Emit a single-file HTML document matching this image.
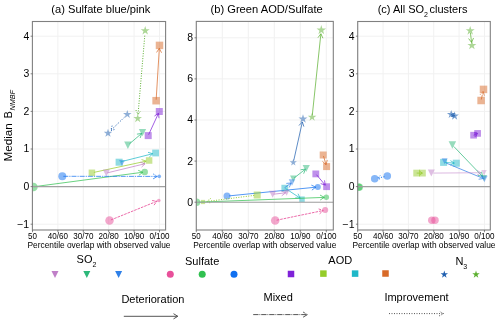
<!DOCTYPE html><html><head><meta charset="utf-8"><style>html,body{margin:0;padding:0;background:#fff;width:500px;height:324px;overflow:hidden}</style></head><body><svg width="500" height="324" viewBox="0 0 500 324" style="display:block;will-change:transform">
<rect width="500" height="324" fill="#fff"/>
<g font-family='"Liberation Sans", sans-serif' fill="#000">
<line x1="32.50" y1="21.5" x2="32.50" y2="230" stroke="#f1f1f1" stroke-width="1"/>
<line x1="57.90" y1="21.5" x2="57.90" y2="230" stroke="#f1f1f1" stroke-width="1"/>
<line x1="83.30" y1="21.5" x2="83.30" y2="230" stroke="#f1f1f1" stroke-width="1"/>
<line x1="108.70" y1="21.5" x2="108.70" y2="230" stroke="#f1f1f1" stroke-width="1"/>
<line x1="134.10" y1="21.5" x2="134.10" y2="230" stroke="#f1f1f1" stroke-width="1"/>
<line x1="159.50" y1="21.5" x2="159.50" y2="230" stroke="#f1f1f1" stroke-width="1"/>
<line x1="32.4" y1="224.20" x2="165.6" y2="224.20" stroke="#f1f1f1" stroke-width="1"/>
<line x1="32.4" y1="186.60" x2="165.6" y2="186.60" stroke="#f1f1f1" stroke-width="1"/>
<line x1="32.4" y1="149.00" x2="165.6" y2="149.00" stroke="#f1f1f1" stroke-width="1"/>
<line x1="32.4" y1="111.40" x2="165.6" y2="111.40" stroke="#f1f1f1" stroke-width="1"/>
<line x1="32.4" y1="73.80" x2="165.6" y2="73.80" stroke="#f1f1f1" stroke-width="1"/>
<line x1="32.4" y1="36.20" x2="165.6" y2="36.20" stroke="#f1f1f1" stroke-width="1"/>
<line x1="196.30" y1="21.4" x2="196.30" y2="230" stroke="#f1f1f1" stroke-width="1"/>
<line x1="222.30" y1="21.4" x2="222.30" y2="230" stroke="#f1f1f1" stroke-width="1"/>
<line x1="248.30" y1="21.4" x2="248.30" y2="230" stroke="#f1f1f1" stroke-width="1"/>
<line x1="274.30" y1="21.4" x2="274.30" y2="230" stroke="#f1f1f1" stroke-width="1"/>
<line x1="300.30" y1="21.4" x2="300.30" y2="230" stroke="#f1f1f1" stroke-width="1"/>
<line x1="326.30" y1="21.4" x2="326.30" y2="230" stroke="#f1f1f1" stroke-width="1"/>
<line x1="196.3" y1="202.20" x2="333.3" y2="202.20" stroke="#f1f1f1" stroke-width="1"/>
<line x1="196.3" y1="161.10" x2="333.3" y2="161.10" stroke="#f1f1f1" stroke-width="1"/>
<line x1="196.3" y1="120.00" x2="333.3" y2="120.00" stroke="#f1f1f1" stroke-width="1"/>
<line x1="196.3" y1="78.90" x2="333.3" y2="78.90" stroke="#f1f1f1" stroke-width="1"/>
<line x1="196.3" y1="37.80" x2="333.3" y2="37.80" stroke="#f1f1f1" stroke-width="1"/>
<line x1="357.70" y1="21.5" x2="357.70" y2="230" stroke="#f1f1f1" stroke-width="1"/>
<line x1="383.05" y1="21.5" x2="383.05" y2="230" stroke="#f1f1f1" stroke-width="1"/>
<line x1="408.40" y1="21.5" x2="408.40" y2="230" stroke="#f1f1f1" stroke-width="1"/>
<line x1="433.75" y1="21.5" x2="433.75" y2="230" stroke="#f1f1f1" stroke-width="1"/>
<line x1="459.10" y1="21.5" x2="459.10" y2="230" stroke="#f1f1f1" stroke-width="1"/>
<line x1="484.45" y1="21.5" x2="484.45" y2="230" stroke="#f1f1f1" stroke-width="1"/>
<line x1="357.7" y1="224.20" x2="490.3" y2="224.20" stroke="#f1f1f1" stroke-width="1"/>
<line x1="357.7" y1="186.60" x2="490.3" y2="186.60" stroke="#f1f1f1" stroke-width="1"/>
<line x1="357.7" y1="149.00" x2="490.3" y2="149.00" stroke="#f1f1f1" stroke-width="1"/>
<line x1="357.7" y1="111.40" x2="490.3" y2="111.40" stroke="#f1f1f1" stroke-width="1"/>
<line x1="357.7" y1="73.80" x2="490.3" y2="73.80" stroke="#f1f1f1" stroke-width="1"/>
<line x1="357.7" y1="36.20" x2="490.3" y2="36.20" stroke="#f1f1f1" stroke-width="1"/>
<defs><clipPath id="ca"><rect x="32.4" y="21.5" width="133.2" height="208.5"/></clipPath><clipPath id="cb"><rect x="196.3" y="21.4" width="137" height="208.6"/></clipPath><clipPath id="cc"><rect x="357.7" y="21.5" width="132.6" height="208.5"/></clipPath></defs>
<g clip-path="url(#ca)">
<path d="M145.20,25.95L144.13,29.23L140.68,29.23L143.47,31.26L142.41,34.54L145.20,32.51L147.99,34.54L146.93,31.26L149.72,29.23L146.27,29.23Z" fill="#5cb030" fill-opacity="0.5"/>
<path d="M137.70,114.00L136.69,117.11L133.42,117.11L136.07,119.03L135.05,122.14L137.70,120.22L140.35,122.14L139.33,119.03L141.98,117.11L138.71,117.11Z" fill="#5cb030" fill-opacity="0.5"/>
<path d="M144.77,35.68L138.04,114.51M135.91,110.12L138.04,114.51L140.89,110.54" fill="none" stroke="#5cb030" stroke-width="1.0" stroke-opacity="1.0" stroke-dasharray="1,1.5"/>
<rect x="155.75" y="41.65" width="7.50" height="7.50" fill="#d86a28" fill-opacity="0.5"/>
<rect x="152.35" y="96.95" width="7.50" height="7.50" fill="#d86a28" fill-opacity="0.5"/>
<path d="M156.16,99.70L159.32,48.39M161.55,52.74L159.32,48.39L156.56,52.43" fill="none" stroke="#d86a28" stroke-width="1.0" stroke-opacity="0.72" />
<path d="M127.30,109.90L126.29,113.01L123.02,113.01L125.67,114.93L124.65,118.04L127.30,116.12L129.95,118.04L128.93,114.93L131.58,113.01L128.31,113.01Z" fill="#2060b0" fill-opacity="0.5"/>
<path d="M108.00,128.70L106.99,131.81L103.72,131.81L106.37,133.73L105.35,136.84L108.00,134.92L110.65,136.84L109.63,133.73L112.28,131.81L109.01,131.81Z" fill="#2060b0" fill-opacity="0.5"/>
<path d="M124.43,117.19L110.87,130.41M112.13,125.69L110.87,130.41L115.62,129.27" fill="none" stroke="#2060b0" stroke-width="1.0" stroke-opacity="1.0" stroke-dasharray="1,1.5"/>
<rect x="155.80" y="108.00" width="7.00" height="7.00" fill="#7f22d8" fill-opacity="0.5"/>
<rect x="144.70" y="132.10" width="7.00" height="7.00" fill="#7f22d8" fill-opacity="0.5"/>
<path d="M148.62,134.69L158.46,113.32M158.98,118.18L158.46,113.32L154.44,116.09" fill="none" stroke="#7f22d8" stroke-width="1.0" stroke-opacity="0.72" />
<path d="M124.20,141.50L131.60,141.50L127.90,148.90Z" fill="#2db87a" fill-opacity="0.5"/>
<path d="M138.90,129.10L146.10,129.10L142.50,136.30Z" fill="#2db87a" fill-opacity="0.5"/>
<path d="M129.42,143.90L141.74,133.35M140.18,137.98L141.74,133.35L136.92,134.18" fill="none" stroke="#2db87a" stroke-width="1.0" stroke-opacity="0.72" />
<rect x="152.20" y="149.60" width="6.80" height="6.80" fill="#1fb8c8" fill-opacity="0.5"/>
<rect x="115.60" y="158.70" width="7.00" height="7.00" fill="#1fb8c8" fill-opacity="0.5"/>
<path d="M119.00,160.00L125.00,160.00L122.00,166.00Z" fill="#2f80e8" fill-opacity="0.5"/>
<path d="M121.04,161.71L152.69,153.73M149.23,157.18L152.69,153.73L148.01,152.34" fill="none" stroke="#1fb8c8" stroke-width="1.0" stroke-opacity="0.72" />
<rect x="145.85" y="157.25" width="6.50" height="6.50" fill="#95cc2a" fill-opacity="0.5"/>
<rect x="88.65" y="169.55" width="6.50" height="6.50" fill="#95cc2a" fill-opacity="0.5"/>
<path d="M93.86,172.38L146.17,161.13M142.59,164.46L146.17,161.13L141.54,159.57" fill="none" stroke="#95cc2a" stroke-width="1.0" stroke-opacity="0.72" />
<path d="M102.80,169.60L109.80,169.60L106.30,176.60Z" fill="#c080c8" fill-opacity="0.5"/>
<path d="M107.27,172.86L145.08,163.71M141.59,167.12L145.08,163.71L140.41,162.27" fill="none" stroke="#c080c8" stroke-width="1.0" stroke-opacity="0.72" />
<circle cx="33.40" cy="187.00" r="4.30" fill="#30c050" fill-opacity="0.5"/>
<circle cx="144.70" cy="172.00" r="3.25" fill="#30c050" fill-opacity="0.5"/>
<path d="M34.20,186.70L142.72,172.26M138.88,175.30L142.72,172.26L138.22,170.34" fill="none" stroke="#30c050" stroke-width="1.0" stroke-opacity="0.72" />
<circle cx="62.30" cy="176.30" r="4.00" fill="#1070f0" fill-opacity="0.5"/>
<circle cx="159.30" cy="176.40" r="1.80" fill="#1070f0" fill-opacity="0.5"/>
<path d="M63.30,176.30L157.30,176.40M153.10,178.89L157.30,176.40L153.10,173.89" fill="none" stroke="#1070f0" stroke-width="1.0" stroke-opacity="0.72" stroke-dasharray="5,1,1.2,1"/>
<circle cx="109.50" cy="220.50" r="4.25" fill="#e8509a" fill-opacity="0.5"/>
<circle cx="158.80" cy="200.50" r="1.80" fill="#e8509a" fill-opacity="0.5"/>
<path d="M110.89,219.94L156.95,201.25M153.99,205.15L156.95,201.25L152.11,200.51" fill="none" stroke="#e8509a" stroke-width="1.0" stroke-opacity="0.85" stroke-dasharray="2.6,1"/>
</g>
<g clip-path="url(#cb)">
<path d="M321.30,25.10L320.18,28.55L316.54,28.55L319.48,30.69L318.36,34.15L321.30,32.01L324.24,34.15L323.12,30.69L326.06,28.55L322.42,28.55Z" fill="#5cb030" fill-opacity="0.5"/>
<path d="M312.10,112.60L311.09,115.71L307.82,115.71L310.47,117.63L309.45,120.74L312.10,118.82L314.75,120.74L313.73,117.63L316.38,115.71L313.11,115.71Z" fill="#5cb030" fill-opacity="0.5"/>
<path d="M312.31,115.11L320.89,33.78M322.93,38.22L320.89,33.78L317.96,37.70" fill="none" stroke="#5cb030" stroke-width="1.0" stroke-opacity="0.72" />
<path d="M303.00,114.25L301.93,117.53L298.48,117.53L301.27,119.56L300.21,122.84L303.00,120.81L305.79,122.84L304.73,119.56L307.52,117.53L304.07,117.53Z" fill="#2060b0" fill-opacity="0.5"/>
<path d="M293.30,158.75L292.46,161.34L289.73,161.34L291.94,162.94L291.10,165.53L293.30,163.93L295.50,165.53L294.66,162.94L296.87,161.34L294.14,161.34Z" fill="#2060b0" fill-opacity="0.5"/>
<path d="M293.74,160.55L302.35,121.93M303.87,126.57L302.35,121.93L298.99,125.48" fill="none" stroke="#2060b0" stroke-width="1.0" stroke-opacity="0.72" />
<rect x="319.70" y="151.50" width="7.00" height="7.00" fill="#d86a28" fill-opacity="0.5"/>
<rect x="323.10" y="163.10" width="7.00" height="7.00" fill="#d86a28" fill-opacity="0.5"/>
<path d="M323.48,155.96L326.04,164.68M322.46,161.35L326.04,164.68L327.26,159.95" fill="none" stroke="#d86a28" stroke-width="1.0" stroke-opacity="0.72" />
<path d="M302.60,164.90L309.80,164.90L306.20,172.10Z" fill="#2db87a" fill-opacity="0.5"/>
<path d="M290.05,175.45L296.55,175.45L293.30,181.95Z" fill="#2db87a" fill-opacity="0.5"/>
<path d="M294.08,178.08L305.42,169.12M303.67,173.69L305.42,169.12L300.57,169.76" fill="none" stroke="#2db87a" stroke-width="1.0" stroke-opacity="0.72" />
<rect x="312.40" y="170.50" width="6.80" height="6.80" fill="#7f22d8" fill-opacity="0.5"/>
<rect x="323.20" y="183.30" width="6.80" height="6.80" fill="#7f22d8" fill-opacity="0.5"/>
<path d="M316.44,174.66L325.31,185.17M320.69,183.57L325.31,185.17L324.51,180.35" fill="none" stroke="#7f22d8" stroke-width="1.0" stroke-opacity="0.72" />
<circle cx="227.00" cy="196.10" r="3.50" fill="#1070f0" fill-opacity="0.5"/>
<circle cx="317.80" cy="187.00" r="3.00" fill="#1070f0" fill-opacity="0.5"/>
<path d="M228.99,195.90L315.81,187.20M311.88,190.11L315.81,187.20L311.38,185.13" fill="none" stroke="#1070f0" stroke-width="1.0" stroke-opacity="0.72" />
<rect x="281.40" y="184.80" width="6.80" height="6.80" fill="#1fb8c8" fill-opacity="0.5"/>
<rect x="299.25" y="196.45" width="5.50" height="5.50" fill="#1fb8c8" fill-opacity="0.5"/>
<path d="M285.34,188.35L300.13,198.10M295.25,197.88L300.13,198.10L298.00,193.70" fill="none" stroke="#1fb8c8" stroke-width="1.0" stroke-opacity="0.72" />
<path d="M288.75,179.15L295.25,179.15L292.00,185.65Z" fill="#2f80e8" fill-opacity="0.5"/>
<path d="M284.50,187.80L291.19,182.98M289.24,187.47L291.19,182.98L286.32,183.41" fill="none" stroke="#2f80e8" stroke-width="1.0" stroke-opacity="0.72" />
<path d="M269.10,190.80L276.10,190.80L272.60,197.80Z" fill="#c080c8" fill-opacity="0.5"/>
<path d="M283.60,189.70L289.60,189.70L286.60,195.70Z" fill="#c080c8" fill-opacity="0.5"/>
<path d="M273.59,194.19L285.61,192.81M281.72,195.77L285.61,192.81L281.15,190.81" fill="none" stroke="#c080c8" stroke-width="1.0" stroke-opacity="0.72" />
<rect x="253.70" y="191.50" width="7.00" height="7.00" fill="#95cc2a" fill-opacity="0.5"/>
<rect x="200.90" y="199.90" width="4.20" height="4.20" fill="#95cc2a" fill-opacity="0.5"/>
<path d="M254.22,195.38L206.77,201.49M210.61,198.47L206.77,201.49L211.25,203.43" fill="none" stroke="#95cc2a" stroke-width="1.0" stroke-opacity="1.0" stroke-dasharray="1,1.5"/>
<circle cx="196.60" cy="202.30" r="3.70" fill="#30c050" fill-opacity="0.5"/>
<circle cx="326.30" cy="197.30" r="2.75" fill="#30c050" fill-opacity="0.5"/>
<path d="M198.80,202.16L324.30,197.38M320.20,200.03L324.30,197.38L320.01,195.04" fill="none" stroke="#30c050" stroke-width="1.0" stroke-opacity="0.72" />
<circle cx="275.20" cy="220.50" r="4.25" fill="#e8509a" fill-opacity="0.5"/>
<circle cx="325.20" cy="210.10" r="3.00" fill="#e8509a" fill-opacity="0.5"/>
<path d="M276.67,220.19L323.24,210.51M319.64,213.81L323.24,210.51L318.62,208.91" fill="none" stroke="#e8509a" stroke-width="1.0" stroke-opacity="0.85" stroke-dasharray="2.6,1"/>
</g>
<g clip-path="url(#cc)">
<path d="M470.20,26.05L469.13,29.33L465.68,29.33L468.47,31.36L467.41,34.64L470.20,32.61L472.99,34.64L471.93,31.36L474.72,29.33L471.27,29.33Z" fill="#5cb030" fill-opacity="0.5"/>
<path d="M471.90,40.65L470.83,43.93L467.38,43.93L470.17,45.96L469.11,49.24L471.90,47.21L474.69,49.24L473.63,45.96L476.42,43.93L472.97,43.93Z" fill="#5cb030" fill-opacity="0.5"/>
<path d="M470.43,32.79L471.55,42.42M468.58,38.54L471.55,42.42L473.55,37.96" fill="none" stroke="#5cb030" stroke-width="1.0" stroke-opacity="0.72" />
<rect x="477.35" y="96.75" width="7.50" height="7.50" fill="#d86a28" fill-opacity="0.5"/>
<rect x="479.75" y="85.65" width="7.50" height="7.50" fill="#d86a28" fill-opacity="0.5"/>
<path d="M481.31,99.52L483.08,91.35M484.38,95.73L483.08,91.35L480.08,94.80" fill="none" stroke="#d86a28" stroke-width="1.0" stroke-opacity="0.72" stroke-dasharray="5,1,1.2,1"/>
<path d="M451.20,109.90L450.19,113.01L446.92,113.01L449.57,114.93L448.55,118.04L451.20,116.12L453.85,118.04L452.83,114.93L455.48,113.01L452.21,113.01Z" fill="#2060b0" fill-opacity="0.6"/>
<path d="M454.60,111.50L453.59,114.61L450.32,114.61L452.97,116.53L451.95,119.64L454.60,117.72L457.25,119.64L456.23,116.53L458.88,114.61L455.61,114.61Z" fill="#2060b0" fill-opacity="0.6"/>
<path d="M451.20,114.40L454.60,116.00M451.03,116.53L454.60,116.00L452.74,112.91" fill="none" stroke="#2060b0" stroke-width="1.0" stroke-opacity="0.72" />
<rect x="470.25" y="131.85" width="6.70" height="6.70" fill="#7f22d8" fill-opacity="0.5"/>
<rect x="474.25" y="130.05" width="6.70" height="6.70" fill="#7f22d8" fill-opacity="0.5"/>
<path d="M473.60,135.20L477.60,133.40M475.68,136.45L477.60,133.40L474.04,132.81" fill="none" stroke="#7f22d8" stroke-width="1.0" stroke-opacity="0.72" />
<path d="M448.65,141.25L456.15,141.25L452.40,148.75Z" fill="#2db87a" fill-opacity="0.5"/>
<path d="M481.00,175.00L487.00,175.00L484.00,181.00Z" fill="#2db87a" fill-opacity="0.5"/>
<path d="M453.78,146.44L482.62,176.56M477.91,175.25L482.62,176.56L481.52,171.79" fill="none" stroke="#2db87a" stroke-width="1.0" stroke-opacity="0.72" />
<rect x="440.10" y="158.90" width="7.00" height="7.00" fill="#1fb8c8" fill-opacity="0.5"/>
<rect x="452.80" y="159.70" width="7.00" height="7.00" fill="#1fb8c8" fill-opacity="0.5"/>
<path d="M441.60,158.30L447.60,158.30L444.60,164.30Z" fill="#2f80e8" fill-opacity="0.5"/>
<path d="M481.15,175.65L487.65,175.65L484.40,182.15Z" fill="#2f80e8" fill-opacity="0.5"/>
<path d="M444.60,162.46L454.30,163.07M450.17,165.02L454.30,163.07L450.45,160.63" fill="none" stroke="#1fb8c8" stroke-width="1.0" stroke-opacity="0.72" />
<path d="M446.00,163.00L483.48,178.52M478.64,179.22L483.48,178.52L480.55,174.60" fill="none" stroke="#2f80e8" stroke-width="1.0" stroke-opacity="0.72" />
<path d="M427.80,169.60L434.80,169.60L431.30,176.60Z" fill="#c080c8" fill-opacity="0.5"/>
<path d="M481.25,169.95L486.75,169.95L484.00,175.45Z" fill="#c080c8" fill-opacity="0.4"/>
<path d="M433.30,173.08L481.00,172.72M476.82,175.25L481.00,172.72L476.78,170.25" fill="none" stroke="#c080c8" stroke-width="1.0" stroke-opacity="0.55" />
<rect x="413.30" y="169.70" width="6.80" height="6.80" fill="#95cc2a" fill-opacity="0.5"/>
<rect x="419.00" y="169.70" width="6.80" height="6.80" fill="#95cc2a" fill-opacity="0.5"/>
<path d="M416.70,173.10L422.40,173.10M419.40,175.10L422.40,173.10L419.40,171.10" fill="none" stroke="#95cc2a" stroke-width="1.0" stroke-opacity="0.72" />
<circle cx="374.70" cy="178.80" r="3.75" fill="#1070f0" fill-opacity="0.5"/>
<circle cx="387.30" cy="176.00" r="3.75" fill="#1070f0" fill-opacity="0.5"/>
<path d="M384.37,176.65L377.63,178.15M380.12,175.55L377.63,178.15L380.99,179.45" fill="none" stroke="#1070f0" stroke-width="1.0" stroke-opacity="1.0" stroke-dasharray="1,1.5"/>
<circle cx="358.60" cy="187.20" r="3.60" fill="#30c050" fill-opacity="0.5"/>
<circle cx="359.40" cy="187.20" r="3.60" fill="#30c050" fill-opacity="0.5"/>
<circle cx="431.80" cy="220.30" r="3.75" fill="#e8509a" fill-opacity="0.5"/>
<circle cx="435.00" cy="220.30" r="3.75" fill="#e8509a" fill-opacity="0.5"/>
</g>
<line x1="32.4" y1="186.60" x2="165.6" y2="186.60" stroke="#a0a0a0" stroke-width="1.1"/>
<rect x="32.4" y="21.5" width="133.2" height="208.5" fill="none" stroke="#808080" stroke-width="1.1"/>
<line x1="32.50" y1="230" x2="32.50" y2="232.2" stroke="#555" stroke-width="0.7"/>
<line x1="57.90" y1="230" x2="57.90" y2="232.2" stroke="#555" stroke-width="0.7"/>
<line x1="83.30" y1="230" x2="83.30" y2="232.2" stroke="#555" stroke-width="0.7"/>
<line x1="108.70" y1="230" x2="108.70" y2="232.2" stroke="#555" stroke-width="0.7"/>
<line x1="134.10" y1="230" x2="134.10" y2="232.2" stroke="#555" stroke-width="0.7"/>
<line x1="159.50" y1="230" x2="159.50" y2="232.2" stroke="#555" stroke-width="0.7"/>
<line x1="30.599999999999998" y1="224.20" x2="32.4" y2="224.20" stroke="#555" stroke-width="0.7"/>
<line x1="30.599999999999998" y1="186.60" x2="32.4" y2="186.60" stroke="#555" stroke-width="0.7"/>
<line x1="30.599999999999998" y1="149.00" x2="32.4" y2="149.00" stroke="#555" stroke-width="0.7"/>
<line x1="30.599999999999998" y1="111.40" x2="32.4" y2="111.40" stroke="#555" stroke-width="0.7"/>
<line x1="30.599999999999998" y1="73.80" x2="32.4" y2="73.80" stroke="#555" stroke-width="0.7"/>
<line x1="30.599999999999998" y1="36.20" x2="32.4" y2="36.20" stroke="#555" stroke-width="0.7"/>
<text x="32.50" y="239.10" font-size="8.6" text-anchor="middle" textLength="8.9" lengthAdjust="spacingAndGlyphs" >50</text>
<text x="57.90" y="239.10" font-size="8.6" text-anchor="middle" textLength="20.2" lengthAdjust="spacingAndGlyphs" >40/60</text>
<text x="83.30" y="239.10" font-size="8.6" text-anchor="middle" textLength="20.2" lengthAdjust="spacingAndGlyphs" >30/70</text>
<text x="108.70" y="239.10" font-size="8.6" text-anchor="middle" textLength="20.2" lengthAdjust="spacingAndGlyphs" >20/80</text>
<text x="134.10" y="239.10" font-size="8.6" text-anchor="middle" textLength="20.2" lengthAdjust="spacingAndGlyphs" >10/90</text>
<text x="159.50" y="239.10" font-size="8.6" text-anchor="middle" textLength="20.2" lengthAdjust="spacingAndGlyphs" >0/100</text>
<text x="29.20" y="227.60" font-size="10" text-anchor="end" textLength="12.0" lengthAdjust="spacingAndGlyphs" >−1</text>
<text x="29.20" y="190.00" font-size="10" text-anchor="end" textLength="5.8" lengthAdjust="spacingAndGlyphs" >0</text>
<text x="29.20" y="152.40" font-size="10" text-anchor="end" textLength="5.8" lengthAdjust="spacingAndGlyphs" >1</text>
<text x="29.20" y="114.80" font-size="10" text-anchor="end" textLength="5.8" lengthAdjust="spacingAndGlyphs" >2</text>
<text x="29.20" y="77.20" font-size="10" text-anchor="end" textLength="5.8" lengthAdjust="spacingAndGlyphs" >3</text>
<text x="29.20" y="39.60" font-size="10" text-anchor="end" textLength="5.8" lengthAdjust="spacingAndGlyphs" >4</text>
<text x="99.00" y="247.80" font-size="8.6" text-anchor="middle" textLength="143" lengthAdjust="spacingAndGlyphs" >Percentile overlap with observed value</text>
<line x1="196.3" y1="202.20" x2="333.3" y2="202.20" stroke="#a0a0a0" stroke-width="1.1"/>
<rect x="196.3" y="21.4" width="137.0" height="208.6" fill="none" stroke="#808080" stroke-width="1.1"/>
<line x1="196.30" y1="230" x2="196.30" y2="232.2" stroke="#555" stroke-width="0.7"/>
<line x1="222.30" y1="230" x2="222.30" y2="232.2" stroke="#555" stroke-width="0.7"/>
<line x1="248.30" y1="230" x2="248.30" y2="232.2" stroke="#555" stroke-width="0.7"/>
<line x1="274.30" y1="230" x2="274.30" y2="232.2" stroke="#555" stroke-width="0.7"/>
<line x1="300.30" y1="230" x2="300.30" y2="232.2" stroke="#555" stroke-width="0.7"/>
<line x1="326.30" y1="230" x2="326.30" y2="232.2" stroke="#555" stroke-width="0.7"/>
<line x1="194.5" y1="202.20" x2="196.3" y2="202.20" stroke="#555" stroke-width="0.7"/>
<line x1="194.5" y1="161.10" x2="196.3" y2="161.10" stroke="#555" stroke-width="0.7"/>
<line x1="194.5" y1="120.00" x2="196.3" y2="120.00" stroke="#555" stroke-width="0.7"/>
<line x1="194.5" y1="78.90" x2="196.3" y2="78.90" stroke="#555" stroke-width="0.7"/>
<line x1="194.5" y1="37.80" x2="196.3" y2="37.80" stroke="#555" stroke-width="0.7"/>
<text x="196.30" y="239.10" font-size="8.6" text-anchor="middle" textLength="8.9" lengthAdjust="spacingAndGlyphs" >50</text>
<text x="222.30" y="239.10" font-size="8.6" text-anchor="middle" textLength="20.2" lengthAdjust="spacingAndGlyphs" >40/60</text>
<text x="248.30" y="239.10" font-size="8.6" text-anchor="middle" textLength="20.2" lengthAdjust="spacingAndGlyphs" >30/70</text>
<text x="274.30" y="239.10" font-size="8.6" text-anchor="middle" textLength="20.2" lengthAdjust="spacingAndGlyphs" >20/80</text>
<text x="300.30" y="239.10" font-size="8.6" text-anchor="middle" textLength="20.2" lengthAdjust="spacingAndGlyphs" >10/90</text>
<text x="326.30" y="239.10" font-size="8.6" text-anchor="middle" textLength="20.2" lengthAdjust="spacingAndGlyphs" >0/100</text>
<text x="193.10" y="205.60" font-size="10" text-anchor="end" textLength="5.8" lengthAdjust="spacingAndGlyphs" >0</text>
<text x="193.10" y="164.50" font-size="10" text-anchor="end" textLength="5.8" lengthAdjust="spacingAndGlyphs" >2</text>
<text x="193.10" y="123.40" font-size="10" text-anchor="end" textLength="5.8" lengthAdjust="spacingAndGlyphs" >4</text>
<text x="193.10" y="82.30" font-size="10" text-anchor="end" textLength="5.8" lengthAdjust="spacingAndGlyphs" >6</text>
<text x="193.10" y="41.20" font-size="10" text-anchor="end" textLength="5.8" lengthAdjust="spacingAndGlyphs" >8</text>
<text x="264.80" y="247.80" font-size="8.6" text-anchor="middle" textLength="143" lengthAdjust="spacingAndGlyphs" >Percentile overlap with observed value</text>
<line x1="357.7" y1="186.60" x2="490.3" y2="186.60" stroke="#a0a0a0" stroke-width="1.1"/>
<rect x="357.7" y="21.5" width="132.60000000000002" height="208.5" fill="none" stroke="#808080" stroke-width="1.1"/>
<line x1="357.70" y1="230" x2="357.70" y2="232.2" stroke="#555" stroke-width="0.7"/>
<line x1="383.05" y1="230" x2="383.05" y2="232.2" stroke="#555" stroke-width="0.7"/>
<line x1="408.40" y1="230" x2="408.40" y2="232.2" stroke="#555" stroke-width="0.7"/>
<line x1="433.75" y1="230" x2="433.75" y2="232.2" stroke="#555" stroke-width="0.7"/>
<line x1="459.10" y1="230" x2="459.10" y2="232.2" stroke="#555" stroke-width="0.7"/>
<line x1="484.45" y1="230" x2="484.45" y2="232.2" stroke="#555" stroke-width="0.7"/>
<line x1="355.9" y1="224.20" x2="357.7" y2="224.20" stroke="#555" stroke-width="0.7"/>
<line x1="355.9" y1="186.60" x2="357.7" y2="186.60" stroke="#555" stroke-width="0.7"/>
<line x1="355.9" y1="149.00" x2="357.7" y2="149.00" stroke="#555" stroke-width="0.7"/>
<line x1="355.9" y1="111.40" x2="357.7" y2="111.40" stroke="#555" stroke-width="0.7"/>
<line x1="355.9" y1="73.80" x2="357.7" y2="73.80" stroke="#555" stroke-width="0.7"/>
<line x1="355.9" y1="36.20" x2="357.7" y2="36.20" stroke="#555" stroke-width="0.7"/>
<text x="357.70" y="239.10" font-size="8.6" text-anchor="middle" textLength="8.9" lengthAdjust="spacingAndGlyphs" >50</text>
<text x="383.05" y="239.10" font-size="8.6" text-anchor="middle" textLength="20.2" lengthAdjust="spacingAndGlyphs" >40/60</text>
<text x="408.40" y="239.10" font-size="8.6" text-anchor="middle" textLength="20.2" lengthAdjust="spacingAndGlyphs" >30/70</text>
<text x="433.75" y="239.10" font-size="8.6" text-anchor="middle" textLength="20.2" lengthAdjust="spacingAndGlyphs" >20/80</text>
<text x="459.10" y="239.10" font-size="8.6" text-anchor="middle" textLength="20.2" lengthAdjust="spacingAndGlyphs" >10/90</text>
<text x="484.45" y="239.10" font-size="8.6" text-anchor="middle" textLength="20.2" lengthAdjust="spacingAndGlyphs" >0/100</text>
<text x="354.50" y="227.60" font-size="10" text-anchor="end" textLength="12.0" lengthAdjust="spacingAndGlyphs" >−1</text>
<text x="354.50" y="190.00" font-size="10" text-anchor="end" textLength="5.8" lengthAdjust="spacingAndGlyphs" >0</text>
<text x="354.50" y="152.40" font-size="10" text-anchor="end" textLength="5.8" lengthAdjust="spacingAndGlyphs" >1</text>
<text x="354.50" y="114.80" font-size="10" text-anchor="end" textLength="5.8" lengthAdjust="spacingAndGlyphs" >2</text>
<text x="354.50" y="77.20" font-size="10" text-anchor="end" textLength="5.8" lengthAdjust="spacingAndGlyphs" >3</text>
<text x="354.50" y="39.60" font-size="10" text-anchor="end" textLength="5.8" lengthAdjust="spacingAndGlyphs" >4</text>
<text x="424.00" y="247.80" font-size="8.6" text-anchor="middle" textLength="143" lengthAdjust="spacingAndGlyphs" >Percentile overlap with observed value</text>
<text x="51.30" y="13.00" font-size="11.1" text-anchor="start" textLength="99" lengthAdjust="spacingAndGlyphs" >(a) Sulfate blue/pink</text>
<text x="210.50" y="13.00" font-size="11.1" text-anchor="start" textLength="112.2" lengthAdjust="spacingAndGlyphs" >(b) Green AOD/Sulfate</text>
<text x="377.70" y="13.00" font-size="11" text-anchor="start" >(c) All SO</text>
<text x="423.90" y="16.60" font-size="7" text-anchor="start" >2</text>
<text x="429.50" y="13.00" font-size="11" text-anchor="start" >clusters</text>
<text transform="translate(12.2,161.6) rotate(-90)" font-size="10" textLength="38.5" lengthAdjust="spacingAndGlyphs">Median</text>
<text transform="translate(12.0,118.3) rotate(-90)" font-size="10.5">B</text>
<text transform="translate(14.8,110.6) rotate(-90)" font-size="7.5" font-style="italic" textLength="20.5" lengthAdjust="spacingAndGlyphs">NMBF</text>
<text x="76.60" y="262.80" font-size="11" text-anchor="start" >SO</text>
<text x="92.50" y="266.70" font-size="7" text-anchor="start" >2</text>
<path d="M51.50,270.90L58.50,270.90L55.00,277.90Z" fill="#c080c8" fill-opacity="1"/>
<path d="M83.30,270.90L90.30,270.90L86.80,277.90Z" fill="#2db87a" fill-opacity="1"/>
<path d="M115.10,270.90L122.10,270.90L118.60,277.90Z" fill="#2f80e8" fill-opacity="1"/>
<text x="185.00" y="265.00" font-size="11" text-anchor="start" >Sulfate</text>
<circle cx="170.30" cy="274.30" r="3.50" fill="#e8509a" fill-opacity="1"/>
<circle cx="202.20" cy="274.30" r="3.50" fill="#30c050" fill-opacity="1"/>
<circle cx="234.00" cy="274.30" r="3.50" fill="#1070f0" fill-opacity="1"/>
<text x="328.30" y="264.40" font-size="11" text-anchor="start" >AOD</text>
<rect x="287.75" y="270.75" width="6.50" height="6.50" fill="#7f22d8" fill-opacity="1"/>
<rect x="320.15" y="270.35" width="6.50" height="6.50" fill="#95cc2a" fill-opacity="1"/>
<rect x="351.85" y="270.35" width="6.50" height="6.50" fill="#1fb8c8" fill-opacity="1"/>
<rect x="382.25" y="270.25" width="6.50" height="6.50" fill="#d86a28" fill-opacity="1"/>
<text x="455.40" y="265.00" font-size="11" text-anchor="start" >N</text>
<text x="463.30" y="268.80" font-size="7" text-anchor="start" >3</text>
<path d="M444.30,270.60L443.42,273.29L440.59,273.29L442.88,274.96L442.01,277.66L444.30,275.99L446.59,277.66L445.72,274.96L448.01,273.29L445.18,273.29Z" fill="#2060b0" fill-opacity="1"/>
<path d="M476.00,270.60L475.12,273.29L472.29,273.29L474.58,274.96L473.71,277.66L476.00,275.99L478.29,277.66L477.42,274.96L479.71,273.29L476.88,273.29Z" fill="#5cb030" fill-opacity="1"/>
<text x="121.40" y="302.70" font-size="11" text-anchor="start" >Deterioration</text>
<path d="M123.80,316.30L177.80,316.30M173.50,318.90L177.80,316.30L173.50,313.70" fill="none" stroke="#555" stroke-width="1.0" stroke-opacity="1" />
<text x="263.50" y="301.30" font-size="11" text-anchor="start" >Mixed</text>
<path d="M253.20,314.60L307.40,314.60M303.10,317.20L307.40,314.60L303.10,312.00" fill="none" stroke="#555" stroke-width="1.0" stroke-opacity="1" stroke-dasharray="5.3,0.9,0.9,0.9"/>
<text x="384.40" y="300.60" font-size="11" text-anchor="start" >Improvement</text>
<path d="M389.00,313.60L443.70,313.60M439.20,315.90L443.70,313.60L439.20,311.30" fill="none" stroke="#555" stroke-width="1.0" stroke-opacity="1.0" stroke-dasharray="1,1.5"/>
</g></svg></body></html>
